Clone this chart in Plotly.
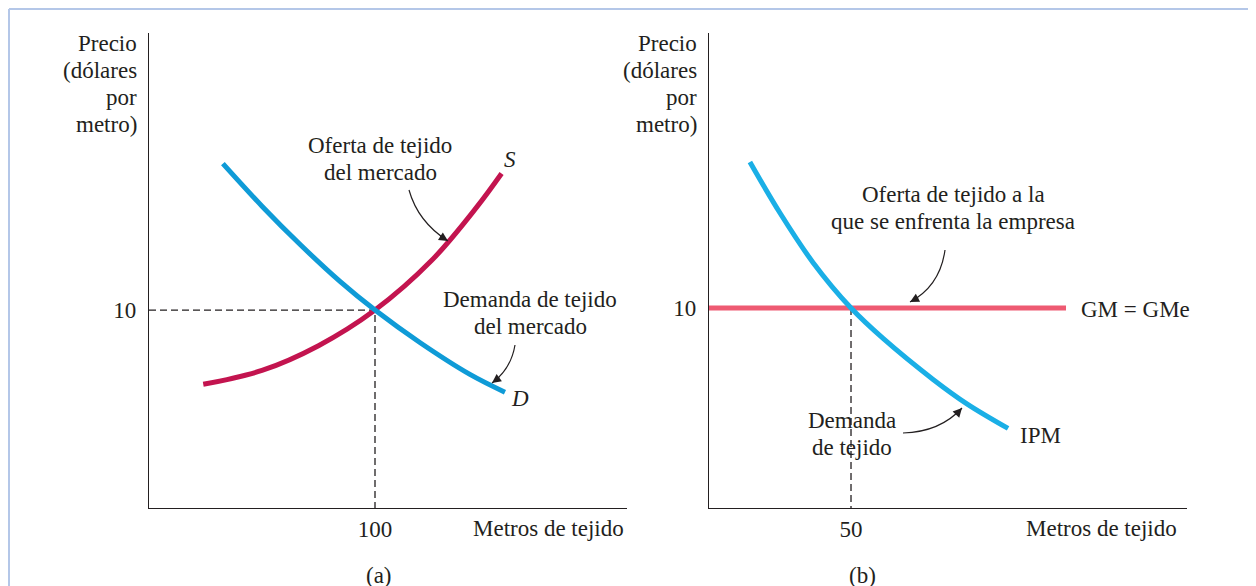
import math
import plotly.graph_objects as go

W, H = 1256, 586
OFF = 8  # page body margin: shift everything up/left so it lands where the reference has it

# ---- data ----
# panel (a): market
supply_x = [24, 50, 75, 100, 125, 145, 156]
supply_y = [6.25, 6.95, 8.2, 10, 12.5, 15.2, 16.9]
demand_x = [32.7, 50, 67, 84.5, 100, 120, 142, 157.5]
demand_y = [17.4, 15.25, 13.3, 11.45, 10, 8.35, 6.75, 5.85]
eq_a = (100, 10)

# panel (b): firm
ipm_x = [14.4, 25.0, 36.6, 50, 61.3, 78.9, 90.8, 105.3]
ipm_y = [17.3, 14.75, 12.28, 10, 8.48, 6.43, 5.21, 3.98]
gm_x = [0, 125.7]
gm_y = [10, 10]
eq_b = (50, 10)

FONT = "Liberation Serif"
FS = 23
TXT = "#231f20"
BLUE_A = "#0f9bd7"
BLUE_B = "#1aafe6"
RED = "#c3144f"
PINK = "#ee5a72"


def px(x):
    return (x - OFF) / W


def py(y):
    return 1 - (y - OFF) / H


fig = go.Figure()

# dashed guides
fig.add_trace(go.Scatter(x=[0, eq_a[0], eq_a[0]], y=[eq_a[1], eq_a[1], 0], mode="lines",
                         line=dict(color=TXT, width=1.3, dash="7px,4px"), xaxis="x", yaxis="y"))
fig.add_trace(go.Scatter(x=[eq_b[0], eq_b[0]], y=[eq_b[1], 0], mode="lines",
                         line=dict(color=TXT, width=1.3, dash="7px,4px"), xaxis="x2", yaxis="y2"))

# curves
fig.add_trace(go.Scatter(x=supply_x, y=supply_y, mode="lines", line=dict(color=RED, width=5, shape="spline"),
                         xaxis="x", yaxis="y"))
fig.add_trace(go.Scatter(x=demand_x, y=demand_y, mode="lines", line=dict(color=BLUE_A, width=5, shape="spline"),
                         xaxis="x", yaxis="y"))
fig.add_trace(go.Scatter(x=gm_x, y=gm_y, mode="lines", line=dict(color=PINK, width=5),
                         xaxis="x2", yaxis="y2"))
fig.add_trace(go.Scatter(x=ipm_x, y=ipm_y, mode="lines", line=dict(color=BLUE_B, width=5, shape="spline"),
                         xaxis="x2", yaxis="y2"))

axis_common = dict(showgrid=False, zeroline=False, showline=True, linecolor=TXT, linewidth=1.3,
                   ticks="", tickfont=dict(family=FONT, size=FS, color=TXT), fixedrange=True)

fig.update_layout(
    width=W, height=H,
    margin=dict(l=0, r=0, t=0, b=0),
    paper_bgcolor="white", plot_bgcolor="white",
    showlegend=False,
    xaxis=dict(domain=[px(149), px(627)], range=[0, 211.5], tickvals=[100], ticktext=["100"],
               anchor="y", ticklabelstandoff=0, **axis_common),
    yaxis=dict(domain=[py(508), py(33)], range=[0, 24.0], tickvals=[10], ticktext=["10"],
               anchor="x", ticklabelstandoff=7, **axis_common),
    xaxis2=dict(domain=[px(709), px(1187)], range=[0, 168.3], tickvals=[50], ticktext=["50"],
                anchor="y2", ticklabelstandoff=0, **axis_common),
    yaxis2=dict(domain=[py(508), py(33)], range=[0, 23.75], tickvals=[10], ticktext=["10"],
                anchor="x2", ticklabelstandoff=7, **axis_common),
)

LINE_H = 27


# text labels: one annotation per line so the line spacing matches
def label(lines, x, y, xanchor="center", italic=False):
    n = len(lines)
    for i, t in enumerate(lines):
        if italic:
            t = "<i>" + t + "</i>"
        fig.add_annotation(text=t, x=px(x), y=py(y + (i - (n - 1) / 2) * LINE_H),
                           xref="paper", yref="paper", xanchor=xanchor, yanchor="middle",
                           showarrow=False, font=dict(family=FONT, size=FS, color=TXT))


price_title = ["Precio", "(dólares", "por", "metro)"]
label(price_title, 139, 84, xanchor="right")
label(price_title, 699, 84, xanchor="right")
label(["Oferta de tejido", "del mercado"], 380, 159)
label(["S"], 510, 160, italic=True)
label(["Demanda de tejido", "del mercado"], 530, 313)
label(["D"], 520, 398, italic=True)
label(["Metros de tejido"], 548, 528)
label(["(a)"], 379, 575)

label(["Oferta de tejido a la", "que se enfrenta la empresa"], 953, 208)
label(["GM = GMe"], 1079, 309, xanchor="left")
label(["Demanda", "de tejido"], 852, 434)
label(["IPM"], 1018, 435, xanchor="left")
label(["Metros de tejido"], 1101, 528)
label(["(b)"], 862, 575)


# curved pointer arrows: quadratic bezier + arrowhead at the tip
def curved_arrow(p0, c, p2):
    path = "M {} {} Q {} {} {} {}".format(px(p0[0]), py(p0[1]), px(c[0]), py(c[1]), px(p2[0]), py(p2[1]))
    fig.add_shape(type="path", path=path, xref="paper", yref="paper",
                  line=dict(color=TXT, width=1.2))
    dx, dy = p2[0] - c[0], p2[1] - c[1]
    n = math.hypot(dx, dy)
    L = 11
    fig.add_annotation(x=px(p2[0]), y=py(p2[1]), xref="paper", yref="paper", text="",
                       showarrow=True, arrowhead=2, arrowsize=1.5, arrowwidth=1.2, arrowcolor=TXT,
                       ax=-dx / n * L, ay=-dy / n * L)


curved_arrow((409, 190), (418, 222), (448, 241))
curved_arrow((515, 345), (511, 369), (492, 383))
curved_arrow((945, 250), (940, 286), (910, 302))
curved_arrow((903, 433), (940, 432), (962, 408))

# light blue frame
frame = dict(color="#b4c7e8", width=2)
fig.add_shape(type="line", xref="paper", yref="paper", x0=px(9), x1=px(9), y0=py(9), y1=py(600), line=frame)
fig.add_shape(type="line", xref="paper", yref="paper", x0=px(1252), x1=px(1252), y0=py(9), y1=py(600), line=frame)
fig.add_shape(type="line", xref="paper", yref="paper", x0=px(9), x1=px(1252), y0=py(9), y1=py(9), line=frame)

fig.write_html("out.html")
